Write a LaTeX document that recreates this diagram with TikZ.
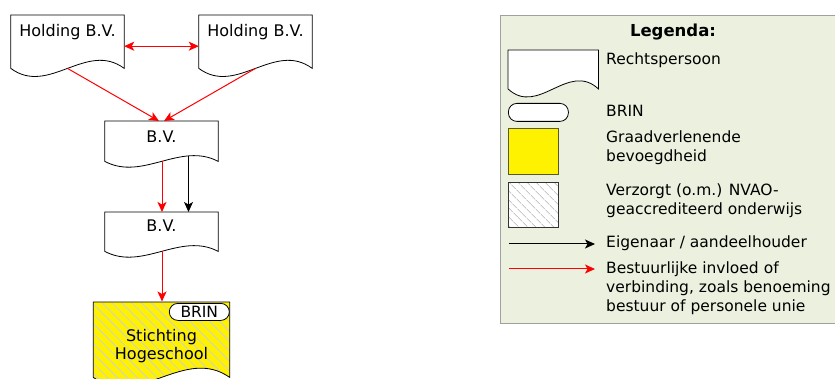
\documentclass[tikz,border=0pt]{standalone}
\usepackage{fontspec}
\setmainfont{DejaVu Sans}
\usetikzlibrary{arrows.meta,patterns.meta,calc}

\definecolor{legbg}{HTML}{EBF1DE}
\definecolor{legborder}{HTML}{A0A0A0}
\definecolor{hatchy}{RGB}{205,205,225}
\definecolor{hatchg}{RGB}{200,200,200}
\definecolor{sqborder}{RGB}{90,90,40}

\newcommand\docoutline[3][]{%
  \draw[#1] (#2.north west) -- (#2.south west)
    .. controls ($(#2.south west)!1/3!(#2.south east)+(0,#3)$)
            and ($(#2.south west)!2/3!(#2.south east)-(0,#3)$) .. (#2.south east)
    -- (#2.north east) -- cycle;}

\tikzset{
  every node/.style={font=\fontsize{15.5}{18.7}\selectfont},
  chartfont/.style={font=\fontsize{16}{18.5}\selectfont},
  docnode/.style={draw=none, inner sep=0pt, anchor=north},
  outline/.style={draw=black, line width=0.8pt},
  pill/.style={draw=black, line width=0.8pt, fill=white, rounded corners=8.5pt, inner sep=0pt},
  redarrow/.style={draw=red, line width=1pt, -{Stealth[length=10pt,width=9pt,inset=2.5pt]}},
  blackarrow/.style={draw=black, line width=1pt, -{Stealth[length=10pt,width=9pt,inset=2.5pt]}},
  legtext/.style={anchor=base west, inner sep=0pt},
  legbox/.style={draw=legborder, line width=1pt, fill=legbg, inner sep=0pt, anchor=north west},
}

\begin{document}
\begin{tikzpicture}[x=1pt,y=-1pt]
\path[fill=white, use as bounding box] (0,0) rectangle (835,379);

% ---------- organisation chart ----------
\node[docnode, chartfont, minimum width=113pt, text height=21pt, text depth=32pt] (h1) at (67.5,15) {Holding B.V.};
\node[docnode, chartfont, minimum width=113pt, text height=21pt, text depth=32pt] (h2) at (255.5,15) {Holding B.V.};
\node[docnode, chartfont, minimum width=113pt, text height=21pt, text depth=19pt] (bv1) at (161.5,121) {B.V.};
\node[docnode, chartfont, minimum width=113pt, text height=19pt, text depth=20pt] (bv2) at (161.5,212) {B.V.};
\node[docnode, minimum width=136pt, minimum height=75pt] (hs) at (161.5,302) {};

\docoutline[outline]{h1}{28}
\docoutline[outline]{h2}{28}
\docoutline[outline]{bv1}{20}
\docoutline[outline]{bv2}{20}

\draw[redarrow, {Stealth[length=10pt,width=9pt,inset=2.5pt]}-{Stealth[length=10pt,width=9pt,inset=2.5pt]}]
  ([yshift=-4.5pt]h1.east) -- ([yshift=-4.5pt]h2.west);
\draw[redarrow] (h1.south) -- ([xshift=-2.5pt]bv1.north);
\draw[redarrow] (h2.south) -- ([xshift=2.5pt]bv1.north);
\draw[redarrow] ([xshift=0.5pt]bv1.south) -- ([xshift=0.5pt]bv2.north);
\draw[blackarrow] ($(bv1.south)+(27,-5.5)$) -- ([xshift=27pt]bv2.north);
\draw[redarrow] ([xshift=0.5pt]bv2.south) -- ([xshift=0.5pt,yshift=0.5pt]hs.north);

\docoutline[outline, preaction={fill=yellow}, pattern={Lines[angle=-45,distance=7pt,line width=0.8pt]}, pattern color=hatchy]{hs}{32}
\node[docnode, chartfont, text height=49pt, text depth=26pt] (hstext) at (hs.north)
  {\begin{tabular}{@{}c@{}}Stichting\\Hogeschool\end{tabular}};
\node[pill, minimum width=60pt, minimum height=17pt, anchor=north east] (brin) at ([yshift=-1pt]hs.north east) {BRIN};

% ---------- legend ----------
\node[legbox, minimum width=345pt, minimum height=308pt] (legend) at (500,15) {};
\node[anchor=base, inner sep=0pt, font=\fontsize{16.5}{18.7}\selectfont\bfseries] (legtitle) at (673,37) {Legenda:};

\node[docnode, anchor=north west, minimum width=90pt, minimum height=38.5pt] (ldoc) at (508,50) {};
\docoutline[outline, fill=white]{ldoc}{28}
\node[legtext] (tdoc) at (606,65) {Rechtspersoon};

\node[pill, minimum width=60pt, minimum height=18pt, anchor=north west] (lbrin) at (508,103) {};
\node[legtext] (tbrin) at (606,117) {BRIN};

\node[draw=sqborder, line width=0.8pt, fill=yellow, inner sep=0pt, minimum width=50pt, minimum height=46pt, anchor=north west] (lgraad) at (508,128) {};
\node[legtext] (tgraad) at (606,143) {\begin{tabular}[t]{@{}l@{}}Graadverlenende\\bevoegdheid\end{tabular}};

\node[draw=black!80, line width=0.8pt, preaction={fill=white}, pattern={Lines[angle=-45,distance=6.5pt,line width=0.9pt]}, pattern color=hatchg, inner sep=0pt, minimum width=50pt, minimum height=45pt, anchor=north west] (lnvao) at (508,182) {};
\node[legtext] (tnvao) at (606,196) {\begin{tabular}[t]{@{}l@{}}Verzorgt (o.m.) NVAO-\\geaccrediteerd onderwijs\end{tabular}};

\coordinate (ka) at (509,244);
\coordinate (kb) at (595,244);
\draw[blackarrow] (ka) -- (kb);
\node[legtext] (teig) at (606,248) {Eigenaar / aandeelhouder};

\coordinate (ra) at (509,269);
\coordinate (rb) at (595,269);
\draw[redarrow] (ra) -- (rb);
\node[legtext] (tbest) at (606,274) {\begin{tabular}[t]{@{}l@{}}Bestuurlijke invloed of\\verbinding, zoals benoeming\\bestuur of personele unie\end{tabular}};
\end{tikzpicture}
\end{document}
